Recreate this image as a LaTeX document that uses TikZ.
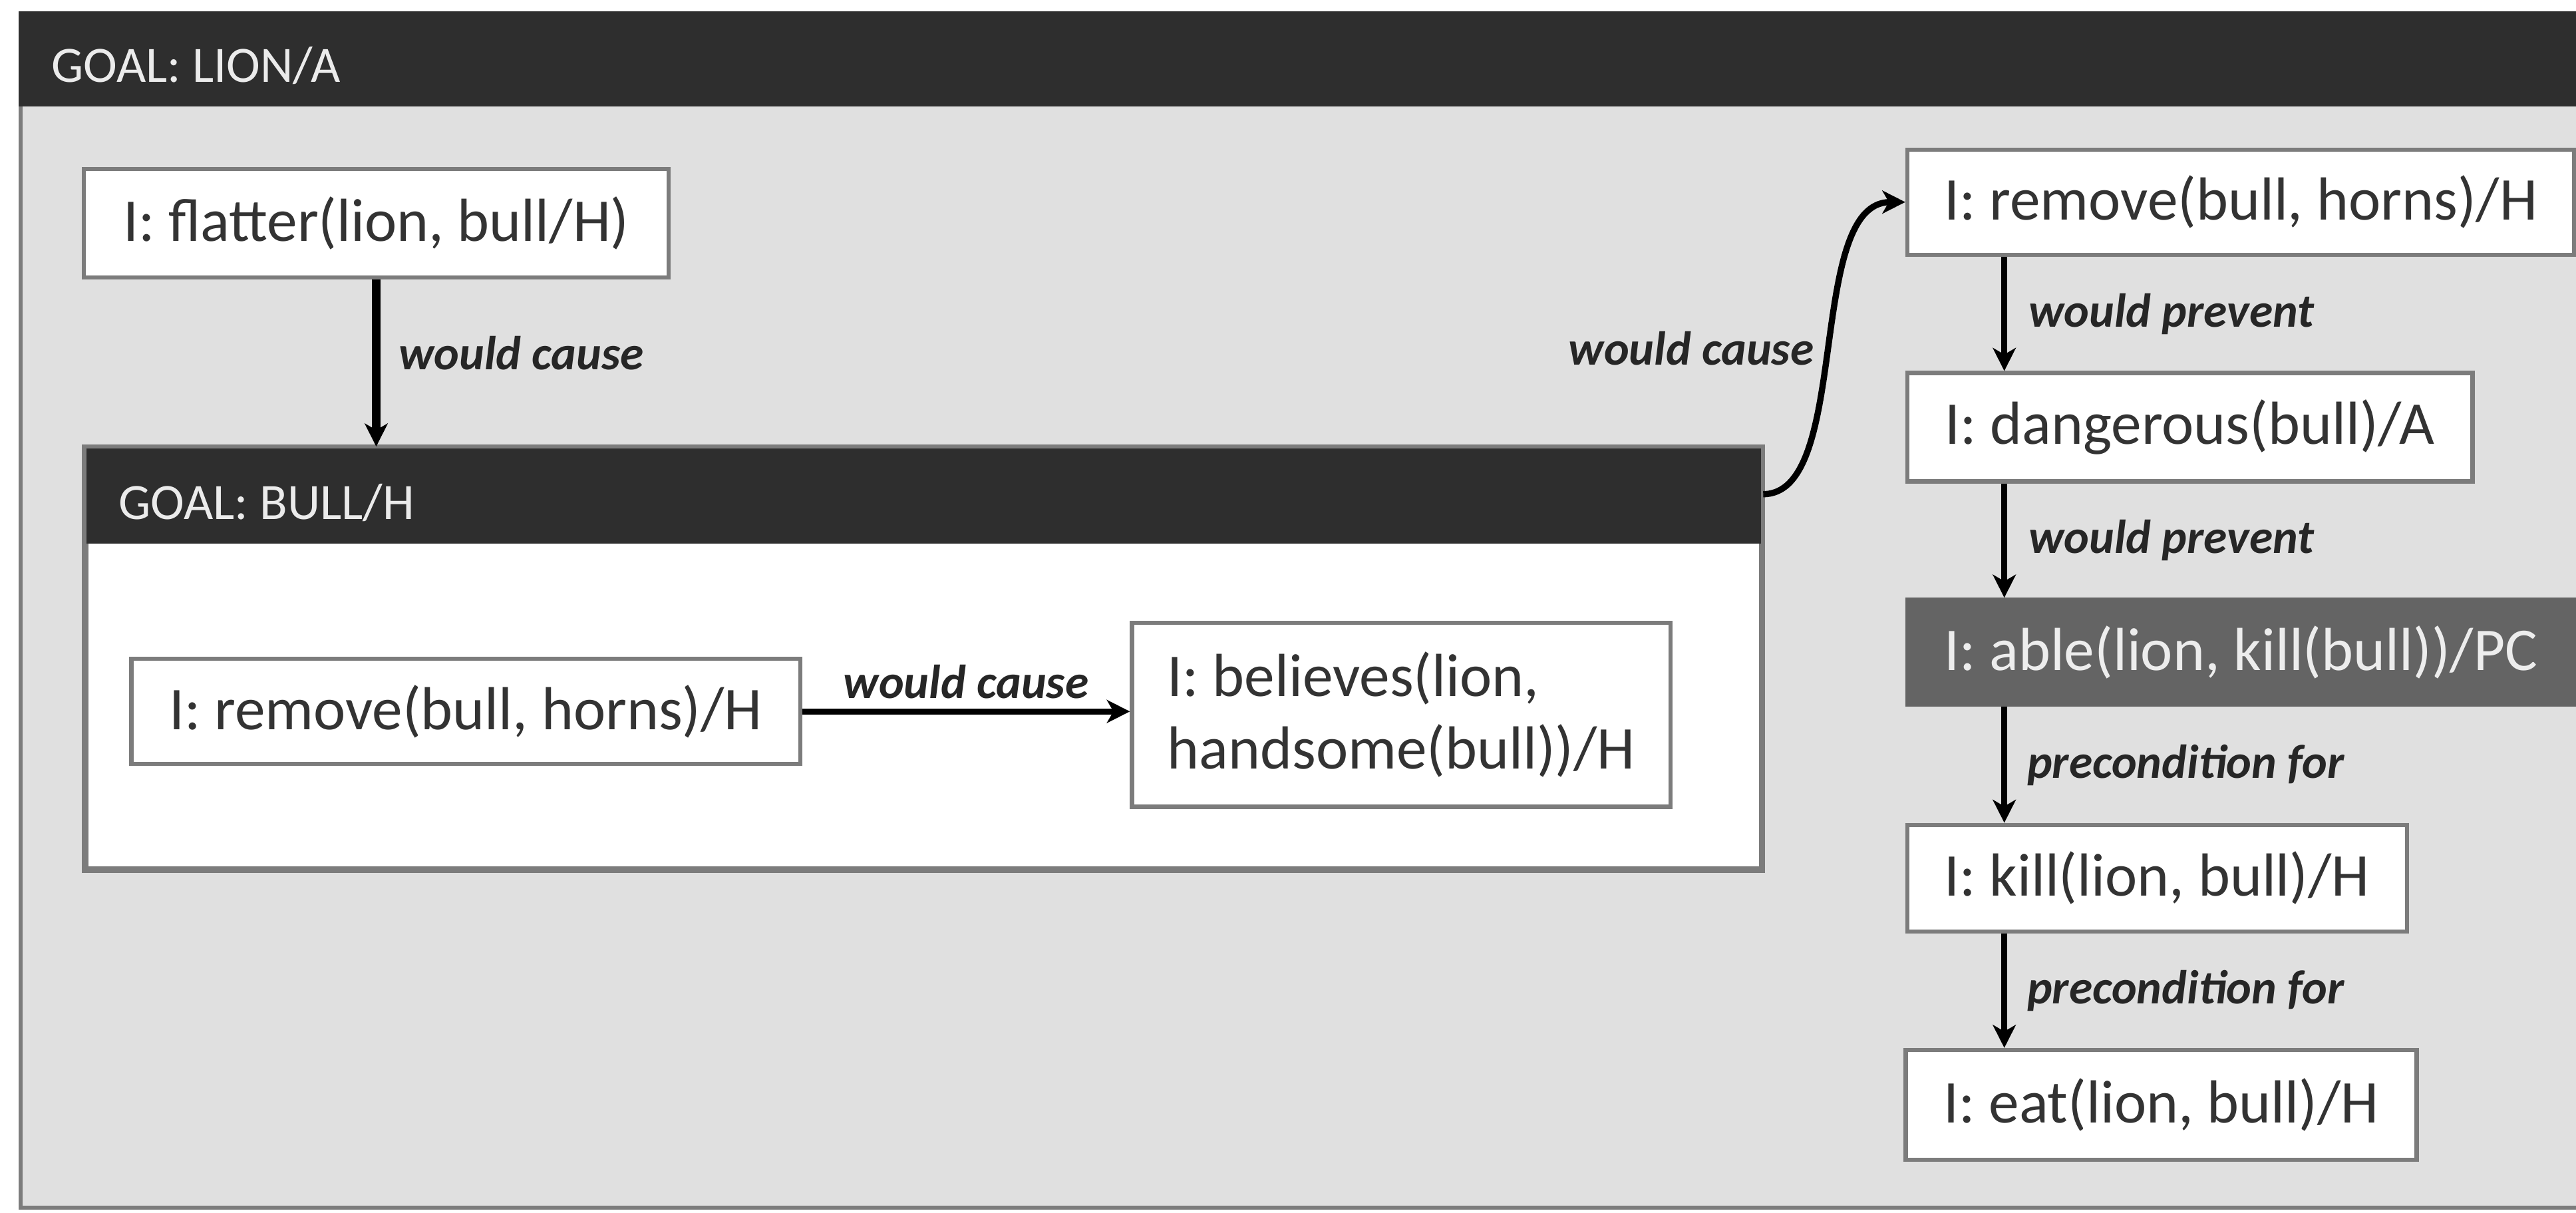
\documentclass[tikz,border=0pt]{standalone}
\usepackage{fontspec}
\setmainfont{Carlito}
\usetikzlibrary{arrows.meta}

\definecolor{barfill}{HTML}{2E2E2E}
\definecolor{panelfill}{HTML}{E0E0E0}
\definecolor{boxedge}{HTML}{7C7C7C}
\definecolor{pcfill}{HTML}{646464}
\definecolor{boxtext}{HTML}{333333}
\definecolor{reltext}{HTML}{262626}

\begin{document}
\begin{tikzpicture}[x=1pt,y=-1pt,
  ibox/.style={draw=boxedge, line width=2.5pt, fill=white, inner sep=0pt,
    align=center, text=boxtext, font=\fontsize{37}{44}\selectfont},
  pcbox/.style={ibox, fill=pcfill, draw=pcfill, text=white!93!black},
  goalbox/.style={draw=boxedge, line width=2.5pt, inner sep=0pt},
  goaltitle/.style={anchor=base west, inner sep=0pt, text=white!92!black,
    font=\fontsize{31}{36}\selectfont},
  link/.style={line width=3.8pt, draw=black,
    -{Stealth[length=14pt,width=14pt,inset=4pt]}},
  rel/.style={inner sep=0pt, text=reltext,
    font=\fontsize{29}{34}\selectfont\bfseries\itshape}]

\useasboundingbox (0,0) rectangle (1568,738);
\fill[white] (0,0) rectangle (1568,738);

% outer goal: the lion
\node[goalbox, fill=panelfill, minimum width=1563, minimum height=727]
  (liongoal) at (793.9,371.5) {};
\fill[barfill] (liongoal.north west) rectangle ([yshift=-58pt]liongoal.north east);
\node[goaltitle] (liontitle) at (31,50) {GOAL: LION/A};

% inner goal: the bull
\node[goalbox, fill=white, minimum width=1019.5, minimum height=255.6]
  (bullgoal) at (562.25,400.8) {};
\fill[barfill] (bullgoal.north west) rectangle ([yshift=-59pt]bullgoal.north east);
\draw[boxedge, line width=2.5pt] (bullgoal.north west) rectangle (bullgoal.south east);
\node[goaltitle] (bulltitle) at (72,316) {GOAL: BULL/H};

% intentions
\node[ibox, minimum width=356, minimum height=66] (flatter) at (229,136)
  {I: flatter(lion, bull/H)};
\node[ibox, minimum width=407, minimum height=64] (hornsA) at (283.5,433)
  {I: remove(bull, horns)/H};
\node[ibox, minimum width=328, minimum height=112, align=left] (believes)
  at (853,435) {I: believes(lion,\\handsome(bull))/H};

\node[ibox, minimum width=406, minimum height=64] (hornsB) at (1364,123)
  {I: remove(bull, horns)/H};
\node[ibox, minimum width=344, minimum height=66] (danger) at (1333,260)
  {I: dangerous(bull)/A};
\node[pcbox, minimum width=406, minimum height=64] (able) at (1364,397)
  {I: able(lion, kill(bull))/PC};
\node[ibox, minimum width=304, minimum height=65] (kill) at (1313,534.5)
  {I: kill(lion, bull)/H};
\node[ibox, minimum width=311, minimum height=67] (eat) at (1315.5,672.5)
  {I: eat(lion, bull)/H};

% relations
\coordinate (colx) at (1220,0);

\draw[link, line width=5.5pt] (flatter.south) -- (bullgoal.north -| flatter.south)
  node[rel, midway, anchor=west, xshift=11pt, yshift=6pt] {would cause};

\draw[link] (hornsA.east) -- (believes.west |- hornsA.east)
  node[rel, midway, anchor=south, yshift=6pt] {would cause};

\draw[link] ([yshift=-29pt]bullgoal.north east)
  .. controls +(54,0) and +(-61,0) ..
  node[rel, pos=0.5, anchor=east, xshift=-8pt] {would cause} (hornsB.west);

\draw[link] (hornsB.south -| colx) -- (danger.north -| colx)
  node[rel, midway, anchor=west, xshift=13pt] {would prevent};
\draw[link] (danger.south -| colx) -- (able.north -| colx)
  node[rel, midway, anchor=west, xshift=13pt] {would prevent};
\draw[link] (able.south -| colx) -- (kill.north -| colx)
  node[rel, midway, anchor=west, xshift=12pt] {precondition for};
\draw[link] (kill.south -| colx) -- (eat.north -| colx)
  node[rel, midway, anchor=west, xshift=12pt] {precondition for};

\end{tikzpicture}
\end{document}
